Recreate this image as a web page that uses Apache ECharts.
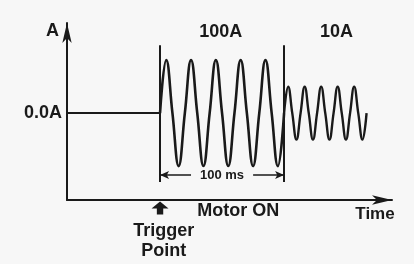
<!DOCTYPE html>
<html>
<head>
<meta charset="utf-8">
<script src="https://cdn.jsdelivr.net/npm/echarts@6/dist/echarts.min.js"></script>
<style>
html, body { margin: 0; padding: 0; background: #f7f7f7; }
#chart { width: 414px; height: 264px; }
</style>
</head>
<body>
<div id="chart"></div>
<script>
// time in ms after the trigger, amplitude in display units (100A peak = 1)
var baseTime = [-75, 0];
var baseAmp = [0, 0];

// 100A inrush, 5 cycles over 100 ms
var burstTime = [0, 5, 10, 15, 20, 25, 30, 35, 40, 45, 50, 55, 60, 65, 70, 75, 80, 85, 90, 95, 100];
var burstAmp = [0, 1, 0, -1, 0, 1, 0, -1, 0, 1, 0, -1, 0, 1, 0, -1, 0, 1, 0, -1, 0];

// 10A running current
var runTime = [100, 103.3, 106.6, 110, 113.3, 116.6, 119.9, 123.3, 126.6, 129.9, 133.2,
               136.6, 139.9, 143.2, 146.5, 149.9, 153.2, 156.5, 159.8, 163.2, 166.5];
var runAmp = [0, 0.5, 0, -0.5, 0, 0.5, 0, -0.5, 0, 0.5, 0, -0.5, 0, 0.5, 0, -0.5, 0, 0.5, 0, -0.5, 0];

// trigger and end of inrush
var markTimes = [0, 100];
var spanLabel = '100 ms';
var zeroLabel = '0.0A';
var phaseLabels = ['100A', '10A'];

var ink = '#1a1a1a';
var bg = '#f7f7f7';
var font = 'Liberation Sans';

function pairs(xs, ys) {
    return xs.map(function (x, i) { return [x, ys[i]]; });
}

function textStyle(size) {
    return { color: ink, fontFamily: font, fontWeight: 'bold', fontSize: size };
}

var chart = echarts.init(document.getElementById('chart'));

var notes = [
    { name: phaseLabels[0], value: [49, 1.53] },
    { name: phaseLabels[1], value: [142.3, 1.53] },
    { name: 'Motor ON', value: [63, -1.85] },
    { name: 'Trigger\nPoint', value: [3, -2.42] }
];

var option = {
    backgroundColor: bg,
    animation: false,
    grid: { left: 67, right: 22, top: 23, bottom: 64 },
    xAxis: {
        type: 'value',
        min: -75,
        max: 187,
        splitLine: { show: false },
        axisTick: { show: false },
        axisLabel: { show: false },
        axisLine: {
            onZero: false,
            symbol: ['none', 'arrow'],
            symbolSize: [7, 20],
            lineStyle: { color: ink, width: 2 }
        },
        name: 'Time',
        nameLocation: 'end',
        nameGap: -17,
        nameTextStyle: Object.assign(textStyle(17), {
            align: 'center', verticalAlign: 'top', padding: [6, 0, 0, 0]
        })
    },
    yAxis: {
        type: 'value',
        min: -1.64,
        max: 1.70,
        splitLine: { show: false },
        axisTick: { show: false },
        axisLine: {
            onZero: false,
            symbol: ['none', 'arrow'],
            symbolSize: [7, 20],
            lineStyle: { color: ink, width: 2 }
        },
        axisLabel: Object.assign(textStyle(18), {
            customValues: [0],
            formatter: function (v) { return v === 0 ? zeroLabel : ''; },
            margin: 5
        }),
        name: 'A',
        nameLocation: 'end',
        nameGap: -8,
        nameTextStyle: Object.assign(textStyle(18), {
            align: 'right', verticalAlign: 'middle', padding: [0, 8, 0, 0]
        })
    },
    series: [
        {
            // flat line before trigger + the two vertical markers
            type: 'line',
            data: pairs(baseTime, baseAmp),
            symbol: 'none',
            lineStyle: { color: ink, width: 2 },
            markLine: {
                silent: true,
                symbol: 'none',
                label: { show: false },
                lineStyle: { color: ink, width: 2, type: 'solid' },
                data: markTimes.map(function (t) {
                    return [{ coord: [t, 1.28] }, { coord: [t, -1.30] }];
                })
            }
        },
        {
            type: 'line',
            data: pairs(burstTime, burstAmp),
            symbol: 'none',
            smooth: 0.45,
            lineStyle: { color: ink, width: 2.6 }
        },
        {
            type: 'line',
            data: pairs(runTime, runAmp),
            symbol: 'none',
            smooth: 0.45,
            lineStyle: { color: ink, width: 2.4 },
            // 100 ms dimension line
            markLine: {
                silent: true,
                symbol: ['arrow', 'arrow'],
                symbolSize: [6, 9],
                lineStyle: { color: ink, width: 1.5, type: 'solid' },
                label: Object.assign(textStyle(13), {
                    show: true,
                    position: 'middle',
                    distance: 0,
                    verticalAlign: 'middle',
                    formatter: spanLabel,
                    backgroundColor: bg,
                    padding: [1, 9]
                }),
                data: [[{ coord: [markTimes[0], -1.17] }, { coord: [markTimes[1], -1.17] }]]
            }
        },
        {
            // trigger arrow under the time axis
            type: 'scatter',
            clip: false,
            data: [[markTimes[0], -1.79]],
            symbol: 'path://M8,0L16,7L11,7L11,13L5,13L5,7L0,7Z',
            symbolSize: [17, 13],
            itemStyle: { color: ink, opacity: 1 }
        },
        {
            type: 'scatter',
            clip: false,
            data: notes,
            symbolSize: 0,
            itemStyle: { opacity: 1 },
            label: Object.assign(textStyle(18), {
                show: true,
                position: 'inside',
                formatter: '{b}',
                align: 'center',
                verticalAlign: 'middle',
                lineHeight: 20
            })
        }
    ]
};

chart.setOption(option);
</script>
</body>
</html>
